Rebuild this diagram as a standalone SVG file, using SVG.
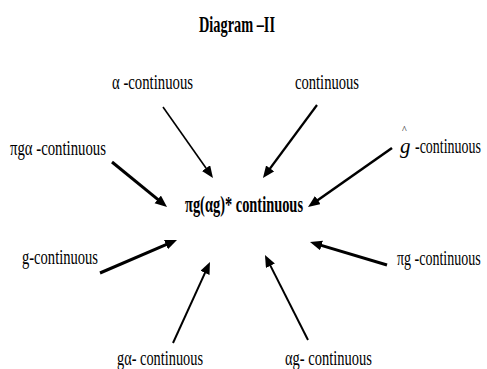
<svg xmlns="http://www.w3.org/2000/svg" width="487" height="369" viewBox="0 0 487 369">
<style>
text{font-family:"Liberation Serif","Times New Roman",serif;fill:#000}
.lbl{font-size:21px}
.b{font-weight:bold}
.c line{stroke:#000;fill:none}
</style>
<defs>
<marker id="ah" markerUnits="userSpaceOnUse" markerWidth="14" markerHeight="12" refX="2" refY="5" orient="auto">
<path d="M0,0 L12,5 L0,10 z" fill="#000"/>
</marker>
</defs>
<rect width="487" height="369" fill="#fff"/>
<g id="title"><text x="199" y="32" class="b" font-size="24" textLength="76" lengthAdjust="spacingAndGlyphs">Diagram –II</text></g>
<g id="center"><text x="185" y="212" class="b" font-size="23" textLength="118" lengthAdjust="spacingAndGlyphs">πg(αg)* continuous</text></g>
<g id="alpha"><text x="112" y="89" class="lbl" textLength="81" lengthAdjust="spacingAndGlyphs">α -continuous</text></g>
<g id="cont"><text x="295" y="89" class="lbl" textLength="64" lengthAdjust="spacingAndGlyphs">continuous</text></g>
<g id="pga"><text x="10" y="155" class="lbl" textLength="96" lengthAdjust="spacingAndGlyphs">πgα -continuous</text></g>
<g id="ghat"><text x="402" y="133" font-size="10">^</text><text x="400" y="153" class="lbl" font-style="italic">g</text><text class="lbl" transform="translate(415,153) scale(0.665,1)">-continuous</text></g>
<g id="g"><text x="22" y="264" class="lbl" textLength="76" lengthAdjust="spacingAndGlyphs">g-continuous</text></g>
<g id="pg"><text class="lbl" transform="translate(397,265) scale(0.667,1)">πg -continuous</text></g>
<g id="ga"><text x="117" y="365" class="lbl" textLength="86" lengthAdjust="spacingAndGlyphs">gα- continuous</text></g>
<g id="ag"><text x="285" y="365" class="lbl" textLength="87" lengthAdjust="spacingAndGlyphs">αg- continuous</text></g>
<g class="c" id="connectors">
<line x1="163" y1="107" x2="207.2" y2="169.8" stroke-width="1.6" marker-end="url(#ah)"/>
<line x1="317" y1="105" x2="268.9" y2="170" stroke-width="2.2" marker-end="url(#ah)"/>
<line x1="112" y1="162" x2="159.3" y2="200.7" stroke-width="3" marker-end="url(#ah)"/>
<line x1="392" y1="148" x2="316.2" y2="201.2" stroke-width="2.6" marker-end="url(#ah)"/>
<line x1="100" y1="273" x2="167.8" y2="243.9" stroke-width="3" marker-end="url(#ah)"/>
<line x1="387" y1="265" x2="319.6" y2="244.9" stroke-width="3" marker-end="url(#ah)"/>
<line x1="173" y1="343" x2="205.8" y2="271.1" stroke-width="2" marker-end="url(#ah)"/>
<line x1="308" y1="340" x2="269.5" y2="263.9" stroke-width="2" marker-end="url(#ah)"/>
</g>
</svg>
